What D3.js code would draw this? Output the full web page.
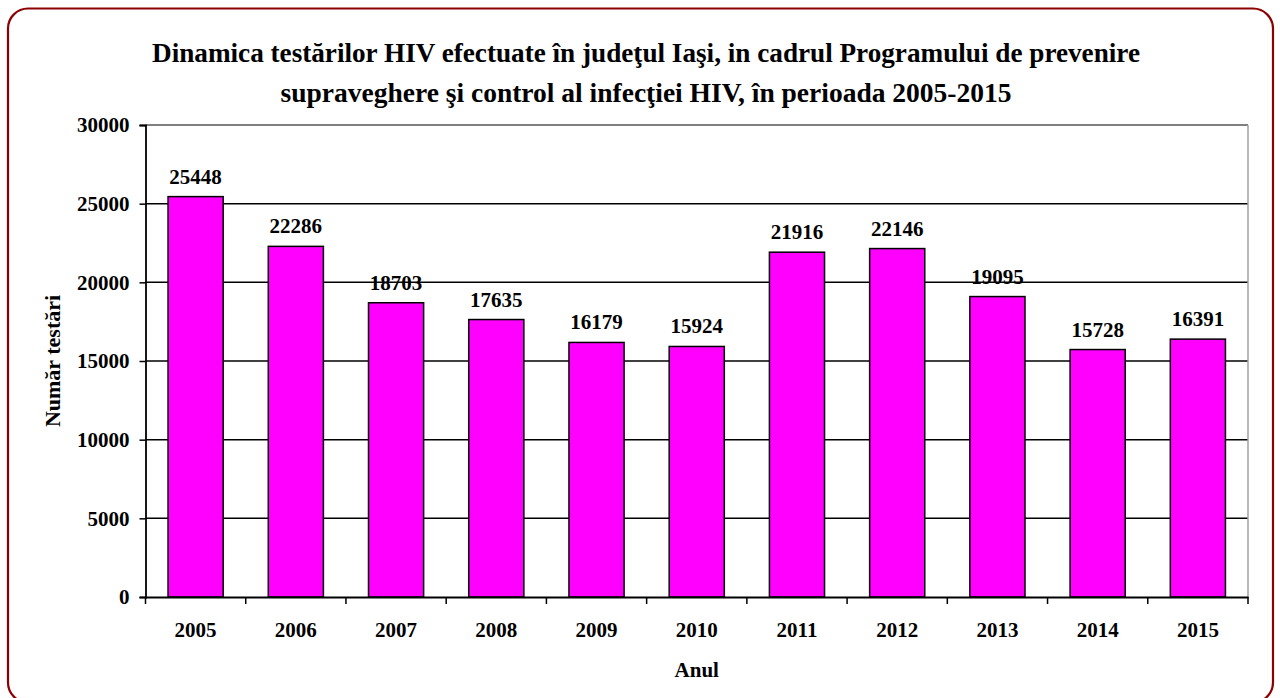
<!DOCTYPE html>
<html><head><meta charset="utf-8">
<script src="https://cdn.jsdelivr.net/npm/d3@7"></script>
<style>
html,body{margin:0;padding:0;background:#fff;}
svg{display:block;}
text{font-family:"Liberation Serif","Times New Roman",serif;font-weight:bold;fill:#000;}
</style></head>
<body>
<svg id="chart" width="1280" height="698"></svg>
<script>
const years = ["2005","2006","2007","2008","2009","2010","2011","2012","2013","2014","2015"];
const tests = [25448,22286,18703,17635,16179,15924,21916,22146,19095,15728,16391];
const yTicks = [0,5000,10000,15000,20000,25000,30000];
const titleLines = ["Dinamica testărilor HIV efectuate în judeţul Iaşi, in cadrul Programului de prevenire",
                    "supraveghere şi control al infecţiei HIV, în perioada 2005-2015"];
const yTitle = "Număr testări";
const xTitle = "Anul";

const svg = d3.select("#chart");
const plot = {left:145.5, right:1248, top:125, bottom:597};

// outer frame
svg.append("rect").attr("x",8).attr("y",8.5).attr("width",1265).attr("height",694)
  .attr("rx",20).attr("ry",20).attr("fill","#fff").attr("stroke","#8b0000").attr("stroke-width",2.2);

const x = d3.scaleBand().domain(years).range([plot.left, plot.right]).paddingInner(0.45).paddingOuter(0.225);
const xb = d3.scaleBand().domain(years).range([plot.left, plot.right]);
const y = d3.scaleLinear().domain([0,30000]).range([plot.bottom, plot.top]);

// title
const tl = [{t:titleLines[0], y:62, len:988},{t:titleLines[1], y:102, len:731}];
svg.selectAll("text.title").data(tl).enter().append("text").attr("class","title")
  .attr("x",646).attr("y",d=>d.y).attr("text-anchor","middle")
  .attr("font-size",27).attr("textLength",d=>d.len).attr("lengthAdjust","spacingAndGlyphs")
  .text(d=>d.t);

// gridlines
svg.append("g").selectAll("line").data(yTicks.filter(v=>v>0 && v<30000)).enter().append("line")
  .attr("x1",plot.left).attr("x2",plot.right).attr("y1",d=>y(d)).attr("y2",d=>y(d))
  .attr("stroke","#000").attr("stroke-width",1.5);
// top & right border (gray)
svg.append("line").attr("x1",plot.left).attr("x2",plot.right).attr("y1",y(30000)).attr("y2",y(30000))
  .attr("stroke","#808080").attr("stroke-width",2);
svg.append("line").attr("x1",plot.right).attr("x2",plot.right).attr("y1",plot.top).attr("y2",plot.bottom)
  .attr("stroke","#a0a0a0").attr("stroke-width",1.5);

// bars
svg.append("g").selectAll("rect").data(years).enter().append("rect")
  .attr("x",d=>x(d)).attr("width",x.bandwidth())
  .attr("y",(d,i)=>y(tests[i])).attr("height",(d,i)=>plot.bottom - y(tests[i]))
  .attr("fill","#ff00ff").attr("stroke","#000").attr("stroke-width",1.5);

// value labels
svg.append("g").selectAll("text").data(years).enter().append("text")
  .attr("x",d=>x(d)+x.bandwidth()/2).attr("y",(d,i)=>y(tests[i])-13)
  .attr("text-anchor","middle").attr("font-size",21)
  .text((d,i)=>tests[i]);

// y axis
const yAxis = svg.append("g").attr("transform",`translate(${plot.left},0)`)
  .call(d3.axisLeft(y).tickValues(yTicks).tickSize(6).tickPadding(10).tickFormat(d3.format("d")));
yAxis.select(".domain").attr("stroke","#000").attr("stroke-width",1.8);
yAxis.selectAll(".tick line").attr("stroke","#000").attr("stroke-width",1.5);
yAxis.selectAll(".tick text").attr("font-size",21).attr("font-family","Liberation Serif, serif").attr("font-weight","bold").attr("fill","#000");

// x axis
const xAxis = svg.append("g").attr("transform",`translate(0,${plot.bottom})`)
  .call(d3.axisBottom(xb).tickSize(0).tickPadding(25));
xAxis.select(".domain").attr("stroke","#000").attr("stroke-width",1.8);
xAxis.selectAll(".tick text").attr("font-size",21).attr("font-family","Liberation Serif, serif").attr("font-weight","bold").attr("fill","#000");
// category boundary ticks
const bounds = years.map(d=>xb(d)).concat([plot.right]);
svg.append("g").selectAll("line").data(bounds).enter().append("line")
  .attr("x1",d=>d).attr("x2",d=>d).attr("y1",plot.bottom).attr("y2",plot.bottom+7)
  .attr("stroke","#000").attr("stroke-width",1.5);

// axis titles
svg.append("text").attr("x",(plot.left+plot.right)/2).attr("y",677).attr("text-anchor","middle")
  .attr("font-size",21).text(xTitle);
svg.append("text").attr("transform",`translate(60,${(plot.top+plot.bottom)/2}) rotate(-90)`)
  .attr("text-anchor","middle").attr("font-size",22).text(yTitle);
</script>
</body></html>
